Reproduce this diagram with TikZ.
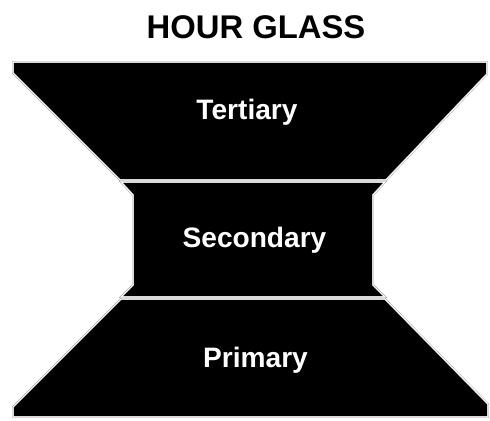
\documentclass[tikz,border=0pt]{standalone}
\usepackage{fontspec}
\setmainfont{Liberation Sans}
\usepackage{tikz}
\usetikzlibrary{positioning,calc}
\definecolor{glassedge}{RGB}{150,150,150}
\tikzset{
    layer/.style={fill=black, draw=glassedge, double=white, double distance=0.9pt, line width=0.35pt, line join=miter},
    layerlabel/.style={text=white, font=\fontsize{24}{27}\selectfont\bfseries, anchor=base, inner sep=0pt},
    headline/.style={text=black, font=\fontsize{28}{32}\selectfont\bfseries, anchor=base, inner sep=0pt},
}

\begin{document}
\begin{tikzpicture}[x=0.03cm, y=-0.03cm]
    \useasboundingbox (0,0) rectangle (490,421);

    % Title
    \node[headline] (title) at (256,38) {HOUR GLASS};

    % Layers (top to bottom)
    \draw[layer] (13,62) -- (487,62) -- (487,74) -- (386,180) -- (120,180) -- (13,73) -- cycle;
    \draw[layer] (121,182) -- (385,182) -- (373,195) -- (373,285) -- (385,297) -- (121,297) -- (133,285) -- (133,195) -- cycle;
    \draw[layer] (121,299) -- (385,299) -- (488,404) -- (488,417) -- (13,417) -- (13,407) -- cycle;

    % Labels
    \node[layerlabel] (tertiary) at (247,120) {Tertiary};
    \node[layerlabel] (secondary) at (254.5,247) {Secondary};
    \node[layerlabel] (primary) at (255.5,367) {Primary};
\end{tikzpicture}
\end{document}
